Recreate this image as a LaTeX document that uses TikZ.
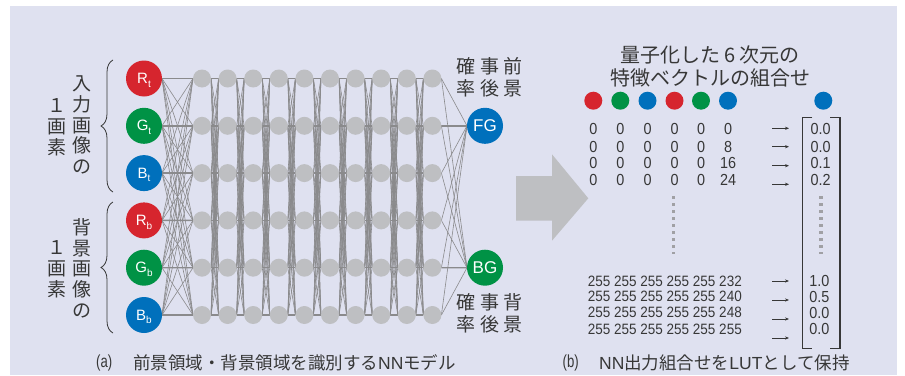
\documentclass[tikz,border=0pt]{standalone}
\usepackage{fontspec}
\setmainfont{Liberation Sans}
\newfontfamily\jp{Noto Sans CJK JP}
\newfontfamily\narrowfnt[FakeStretch=0.9]{Liberation Sans}
\newfontfamily\condfnt[FakeStretch=0.75]{Liberation Sans}
\usetikzlibrary{decorations.pathreplacing,arrows.meta,backgrounds}
\definecolor{bgc}{RGB}{223,225,240}
\definecolor{cred}{RGB}{214,37,46}
\definecolor{cgreen}{RGB}{0,146,69}
\definecolor{cblue}{RGB}{0,112,188}
\definecolor{nodegray}{RGB}{190,191,194}
\definecolor{linegray}{RGB}{138,138,140}
\definecolor{txt}{RGB}{55,55,55}
\definecolor{arrowgray}{RGB}{190,191,194}
\definecolor{dotgray}{RGB}{160,160,164}
\tikzset{
  inp/.style={circle,minimum size=36pt,inner sep=0pt,outer sep=0pt,text=white,font=\fontsize{15}{15}\selectfont},
  hid/.style={circle,minimum size=18pt,inner sep=0pt,outer sep=0pt,fill=nodegray},
  cdot/.style={circle,minimum size=18pt,inner sep=0pt,outer sep=0pt},
  conn/.style={draw=linegray,line width=0.6pt},
  sconn/.style={draw=linegray,line width=1.4pt},
  vlab/.style={text=txt,align=center,inner sep=0pt,font=\jp\fontsize{19}{20.8}\selectfont},
  hlab/.style={text=txt,align=center,inner sep=0pt,font=\jp\fontsize{19}{21.5}\selectfont},
  num/.style={text=txt,inner sep=0pt,font=\narrowfnt\fontsize{16}{16}\selectfont},
  bnum/.style={text=txt,inner sep=0pt,font=\narrowfnt\fontsize{15}{15}\selectfont},
  sarrow/.style={draw=txt,line width=0.8pt,-{Stealth[length=4pt,width=3.2pt]}},
  bracketline/.style={draw=txt,line width=1.2pt},
  dotline/.style={draw=dotgray,line width=3.3pt,dash pattern=on 3.3pt off 3.7pt},
  bracestyle/.style={draw=txt,line width=0.8pt,decorate,decoration={brace,amplitude=12pt,aspect=0.5}},
  captext/.style={text=txt,inner sep=0pt,anchor=west,font=\jp\fontsize{17.5}{17.5}\selectfont},
}
\newcommand{\lbl}[2]{#1\smash{\raisebox{-3.5pt}{\fontsize{10}{10}\selectfont #2}}}
\begin{document}
\begin{tikzpicture}[x=1pt,y=-1pt]
\useasboundingbox (0,0) rectangle (905,375);
\begin{pgfonlayer}{background}
\fill[white] (0,0) rectangle (905,375);
\fill[bgc] (10,6) rectangle (897,375);
\end{pgfonlayer}
% input nodes
\node[inp,fill=cred]   (in0) at (144,78.5)  {\lbl{R}{t}};
\node[inp,fill=cgreen] (in1) at (144,125.8) {\lbl{G}{t}};
\node[inp,fill=cblue]  (in2) at (144,173.1) {\lbl{B}{t}};
\node[inp,fill=cred]   (in3) at (144,220.4) {\lbl{R}{b}};
\node[inp,fill=cgreen] (in4) at (144,267.7) {\lbl{G}{b}};
\node[inp,fill=cblue]  (in5) at (144,315.0) {\lbl{B}{b}};
% hidden nodes
\foreach \k in {0,...,9}{
  \foreach \r in {0,...,5}{
    \node[hid] (h\k-\r) at ({202+25.6*\k},{78.5+47.3*\r}) {};
  }
}
% outputs
\node[inp,fill=cblue,font=\fontsize{17}{17}\selectfont]  (fg) at (485,125.8) {FG};
\node[inp,fill=cgreen,font=\fontsize{17}{17}\selectfont] (bg) at (485,267.7) {BG};
% connections
\begin{pgfonlayer}{background}
\foreach \i in {0,...,5}{
  \foreach \j in {0,...,5}{
    \ifnum\i=\j
      \draw[sconn] (in\i.east) -- (h0-\j.west);
    \else
      \draw[conn] (in\i.east) -- (h0-\j.west);
    \fi
  }
}
\foreach \k/\n in {0/1,1/2,2/3,3/4,4/5,5/6,6/7,7/8,8/9}{
  \foreach \i in {0,...,5}{
    \foreach \j in {0,...,5}{
      \ifnum\i=\j
        \draw[sconn] (h\k-\i.east) -- (h\n-\j.west);
      \else
        \draw[conn] (h\k-\i.east) -- (h\n-\j.west);
      \fi
    }
  }
}
\foreach \i in {0,2,3,5}{
  \draw[conn] (h9-\i.east) -- (fg.west);
  \draw[conn] (h9-\i.east) -- (bg.west);
}
\draw[sconn] (h9-1.east) -- (fg.west);
\draw[conn]  (h9-1.east) -- (bg.west);
\draw[conn]  (h9-4.east) -- (fg.west);
\draw[sconn] (h9-4.east) -- (bg.west);
\end{pgfonlayer}
% braces
\coordinate (b1s) at (113,192);
\coordinate (b1e) at (113,60);
\coordinate (b2s) at (113,333);
\coordinate (b2e) at (113,202);
\draw[bracestyle] (b1s) -- (b1e);
\draw[bracestyle] (b2s) -- (b2e);
% vertical labels
\node[vlab] (v1) at (81.5,125) {入\\力\\画\\像\\の};
\node[vlab] (v2) at (57,127.5) {１\\画\\素};
\node[vlab] (v3) at (81.5,268.3) {背\\景\\画\\像\\の};
\node[vlab] (v4) at (57,269) {１\\画\\素};
% output labels
\node[hlab] (fgl) at (489.5,77.5) {確\hspace{5pt}事\hspace{5pt}前\\率\hspace{5pt}後\hspace{5pt}景};
\node[hlab] (bgl) at (489.5,313.5) {確\hspace{5pt}事\hspace{5pt}背\\率\hspace{5pt}後\hspace{5pt}景};
% big arrow
\fill[arrowgray] (516,176) -- (552,176) -- (552,154.3) -- (588.3,198.3) -- (552,240.7) -- (552,220.7) -- (516,220.7) -- cycle;
% title
\node[text=txt,inner sep=0pt,font=\jp\fontsize{20}{23.3}\selectfont,align=center] (title) at (710.3,66.7) {量子化した\hspace{4pt}6\hspace{4pt}次元の\\特徴ベクトルの組合せ};
% colour dots
\node[cdot,fill=cred]   (c0) at (593.3,100.7) {};
\node[cdot,fill=cgreen] (c1) at (620.3,100.7) {};
\node[cdot,fill=cblue]  (c2) at (647.5,100.7) {};
\node[cdot,fill=cred]   (c3) at (674.5,100.7) {};
\node[cdot,fill=cgreen] (c4) at (701,100.7) {};
\node[cdot,fill=cblue]  (c5) at (728,100.7) {};
\node[cdot,fill=cblue]  (c6) at (823.3,100.7) {};
% top numbers
\foreach \y/\last/\v [count=\r] in {129.3/0/0.0,146.7/8/0.0,162.7/16/0.1,180/24/0.2}{
  \foreach \x [count=\c] in {593.3,620.3,647.5,674.5,701}{
    \node[num] (t\r-\c) at (\x,\y) {0};
  }
  \node[num] (t\r-6) at (728,\y) {\last};
  \node[num] (tv\r) at (820.7,\y) {\v};
}
% bottom numbers
\foreach \y/\last/\v [count=\r] in {281/232/1.0,296.7/240/0.5,312.7/248/0.0,329.3/255/0.0}{
  \node[bnum,anchor=west] (bn\r) at (587.7,\y) {255 255 255 255 255 \last};
  \node[num] (bv\r) at (819.3,\y) {\v};
}
% small arrows
\foreach \y [count=\r] in {128.3,146.7,165.7,184.3,281,300,319,338}{
  \coordinate (as\r) at (772,\y);
  \coordinate (ae\r) at (789,\y);
  \draw[sarrow] (as\r) -- (ae\r);
}
% brackets
\coordinate (lb1) at (812.3,117.3);
\coordinate (lb2) at (802.3,117.3);
\coordinate (lb3) at (802.3,348.3);
\coordinate (lb4) at (812.3,348.3);
\coordinate (rb1) at (830,117.3);
\coordinate (rb2) at (840,117.3);
\coordinate (rb3) at (840,348.3);
\coordinate (rb4) at (830,348.3);
\draw[bracketline] (lb1) -- (lb2) -- (lb3) -- (lb4);
\draw[bracketline] (rb1) -- (rb2) -- (rb3) -- (rb4);
% dotted lines
\coordinate (d1s) at (673.7,196);
\coordinate (d1e) at (673.7,254);
\coordinate (d2s) at (821,196);
\coordinate (d2e) at (821,254);
\draw[dotline] (d1s) -- (d1e);
\draw[dotline] (d2s) -- (d2e);
% captions
\node[captext,font=\condfnt\fontsize{17.5}{17.5}\selectfont] (capa0) at (96,363) {(a)};
\node[captext] (capa) at (133,363) {前景領域・背景領域を識別する{\fontspec{Liberation Sans}NN}モデル};
\node[captext,font=\condfnt\fontsize{17.5}{17.5}\selectfont] (capb0) at (562.5,363) {(b)};
\node[captext] (capb) at (599,363) {{\fontspec{Liberation Sans}NN}出力組合せを{\fontspec{Liberation Sans}LUT}として保持};
\end{tikzpicture}
\end{document}
